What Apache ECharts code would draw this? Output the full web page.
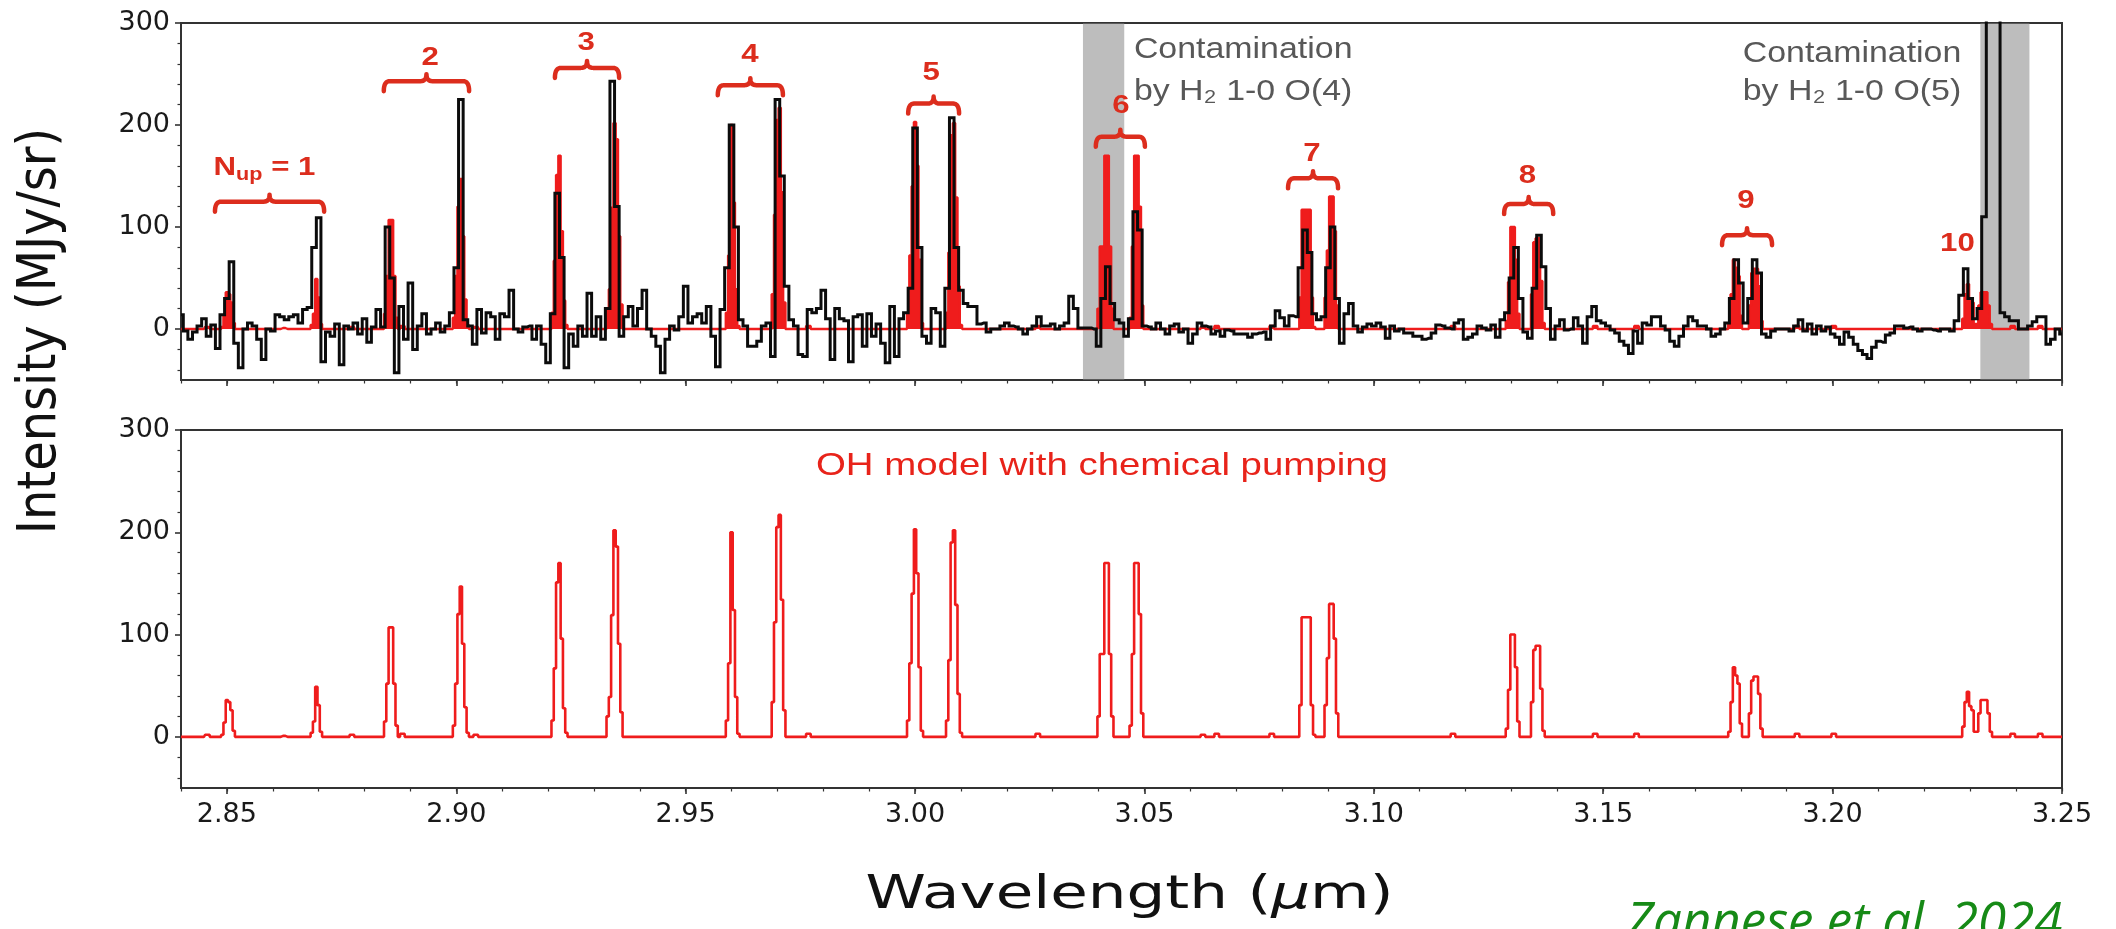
<!DOCTYPE html>
<html>
<head>
<meta charset="utf-8">
<script src="https://cdn.jsdelivr.net/npm/echarts@6/dist/echarts.min.js"></script>
<style>
  html, body { margin: 0; padding: 0; background: #ffffff; overflow: hidden; }
  #chart { width: 2116px; height: 929px; }
</style>
</head>
<body>
<div id="chart"></div>
<script>
// ---------------- data ----------------
// Observed spectrum: regular wavelength grid (µm) and intensity (MJy/sr)
const obsStart = 2.840;
const obsStep = 0.001;
const observed = [
  14, -2, -10, -3, 3, 10, -7, 4, -19, 14,
  30, 66, -14, -38, 0, 6, 3, -10, -30, 0,
  -2, 14, 12, 9, 12, 14, 6, 19, 21, 80,
  109, -32, -3, -7, 5, -35, 3, 0, 6, -5,
  10, -13, 2, 19, 2, 100, 50, -43, 22, -10,
  45, -20, 3, 15, -5, 0, 6, -3, 3, 16,
  60, 225, 9, 3, -15, 19, -4, 16, 12, -10,
  15, 12, 38, 0, -3, 2, 3, -10, 3, -15,
  -33, 15, 133, 70, -38, -5, -17, 3, -7, 35,
  -7, 12, -10, 20, 243, 120, -7, 12, 22, 3,
  20, 38, 0, -7, -17, -43, -10, 3, -1, 12,
  42, 6, 12, 15, 6, 22, -7, -37, 19, 60,
  200, 100, 9, 3, -17, -17, -12, 3, 6, -27,
  225, 150, 42, 9, 3, -25, -27, 19, 16, 20,
  38, 10, -30, 20, 10, 8, -32, 12, 14, -17,
  15, -7, 5, -14, -33, 22, -27, 10, 16, 40,
  197, 80, -7, -14, 20, 16, -17, 40, 207, 80,
  38, 25, 22, 22, 5, 6, -3, 0, 0, 3,
  6, 3, 2, 0, -5, 0, 3, 12, 3, 3,
  5, 0, 3, 6, 32, 20, 1, 1, 1, 0,
  -17, 30, 61, 25, 9, 6, -7, 10, 115, 97,
  3, 2, 0, 6, 0, -5, 3, 5, -3, 0,
  -14, -5, 6, 3, 2, -5, -2, -7, -1, -2,
  -5, -5, -5, -8, -5, -4, -3, -10, 3, 18,
  11, 3, 13, 12, 60, 97, 75, 15, 9, 12,
  60, 100, 30, -14, 15, 25, 3, -3, 2, 5,
  3, 6, 2, -9, 3, -2, 0, -4, -4, -7,
  -7, -10, -9, -4, 4, 3, 1, 0, 6, 9,
  -10, -8, -5, 3, 1, -1, 4, -8, 9, 16,
  50, 80, 30, -3, -9, 40, 92, 61, 20, -10,
  3, 9, -1, 0, 11, 3, -14, 12, 22, 8,
  6, 3, -1, -4, -12, -16, -24, -2, -14, 6,
  4, 12, 12, 3, -1, -12, -17, -7, 3, 12,
  8, 3, 3, 0, -7, -5, 0, 6, 30, 68,
  45, 6, 30, 68, 55, -5, -8, -2, 0, 0,
  0, -2, 3, 9, -2, 5, -5, 3, -2, 2,
  -5, -8, -15, -3, -8, -15, -21, -25, -29, -18,
  -12, -13, -6, -4, 3, 3, 1, 2, 0, -2,
  0, 0, -1, -2, 0, 0, -2, 8, 33, 59,
  30, 10, 20, 110, 420, 560, 480, 16, 12, 8,
  8, 0, 0, 3, 7, 12, 12, -15, -10, 0, -5
];

// OH model: zero continuum on a finer grid, with line profiles
// given as [first wavelength, successive values]
const modelStart = 2.840;
const modelEnd = 3.250;
const modelStep = 0.0005;
const modelLines = [
  [2.8455, [2, 2]],
  [2.8490, [2, 14, 36, 34, 26, 6]],
  [2.8620, [1, 1]],
  [2.8685, [4, 15, 49, 31, 5]],
  [2.8770, [2, 2]],
  [2.8845, [15, 52, 107, 107, 52, 11]],
  [2.8880, [3, 3]],
  [2.8995, [11, 52, 120, 147, 91, 29, 4]],
  [2.9040, [2, 2]],
  [2.9210, [16, 67, 151, 170, 96, 28, 4]],
  [2.9330, [20, 39, 119, 202, 186, 91, 24]],
  [2.9590, [16, 72, 200, 124, 39, 3]],
  [2.9690, [34, 112, 205, 217, 134, 26]],
  [2.9765, [3, 3]],
  [2.9985, [16, 72, 140, 203, 160, 68, 6]],
  [3.0070, [16, 75, 190, 202, 129, 42, 4]],
  [3.0265, [3, 3]],
  [3.0400, [20, 81, 81, 170, 170, 81, 20]],
  [3.0470, [11, 81, 170, 170, 120, 23]],
  [3.0625, [2, 2]],
  [3.0655, [3, 3]],
  [3.0775, [3, 3]],
  [3.0840, [31, 117, 117, 117, 117, 31, 2]],
  [3.0895, [31, 77, 130, 130, 96, 23]],
  [3.1170, [3, 3]],
  [3.1290, [8, 46, 100, 100, 68, 15]],
  [3.1345, [34, 85, 89, 89, 47, 6]],
  [3.1480, [3, 3]],
  [3.1570, [3, 3]],
  [3.1775, [5, 34, 68, 60, 52, 13]],
  [3.1820, [23, 55, 59, 59, 42, 8]],
  [3.1920, [3, 3]],
  [3.2000, [3, 3]],
  [3.2285, [10, 34, 44, 30, 26, 5, 5]],
  [3.2320, [23, 36, 36, 36, 23, 5]],
  [3.2390, [3, 3]],
  [3.2450, [3, 3]]
];

// Axis ticks
const xMajorTicks = [2.85, 2.90, 2.95, 3.00, 3.05, 3.10, 3.15, 3.20, 3.25];
const yMajorTicks = [0, 100, 200, 300];
const yMinorTicks = [-40, -20, 20, 40, 60, 80, 120, 140, 160, 180, 220, 240, 260, 280];

// Wavelength ranges contaminated by H2 lines (µm)
const contaminationBands = [[3.0366, 3.0456], [3.2322, 3.2429]];

// Upper-level groups of the OH lines
const groupLabels = ['N_up = 1', '2', '3', '4', '5', '6', '7', '8', '9', '10'];

// ---------------- annotation layout (data coordinates of the upper panel) ----------------
// [brace start, brace end, brace height, label centre wavelength, label centre height]
const braceLayout = [
  [2.8474, 2.8712, 124.8, 2.8582, 158.3],
  [2.8842, 2.9028, 243.0, 2.8943, 265.4],
  [2.9215, 2.9355, 256.0, 2.9283, 280.9],
  [2.9570, 2.9712, 239.0, 2.9640, 268.6],
  [2.9985, 3.0096, 221.0, 3.0035, 251.5],
  [3.0394, 3.0501, 188.5, 3.0449, 218.8],
  [3.0813, 3.0922, 147.7, 3.0865, 171.4],
  [3.1284, 3.1391, 122.5, 3.1335, 150.2],
  [3.1759, 3.1868, 92.0, 3.1811, 125.7],
  [null, null, null, 3.2272, 83.3]
];

// ---------------- series construction ----------------
const obsData = observed.map((v, i) => [+(obsStart + i * obsStep).toFixed(4), v]);

const nModel = Math.round((modelEnd - modelStart) / modelStep) + 1;
const modelValues = new Array(nModel).fill(0);
modelLines.forEach(([w0, vals]) => {
  const i0 = Math.round((w0 - modelStart) / modelStep);
  vals.forEach((v, k) => { modelValues[i0 + k] = v; });
});
const modelData = modelValues.map((v, i) => [+(modelStart + i * modelStep).toFixed(4), v]);

// ---------------- styling ----------------
const AXIS_COLOR = '#333333';
const TICK_FONT = 'DejaVu Sans';
const RED = '#ef1c1c';
const LABEL_RED = '#dc2d1d';
const SX = 1.2; // horizontal text stretch of the figure

const grids = [
  { left: 181, right: 54, top: 23, height: 357 },
  { left: 181, right: 54, top: 430, height: 358 }
];

function xAxesFor(gridIndex, withLabels) {
  return [
    {
      gridIndex, type: 'value', min: 2.84, max: 3.25, position: 'bottom',
      axisLine: { show: true, onZero: false, lineStyle: { color: AXIS_COLOR, width: 2 } },
      axisTick: { show: true, customValues: xMajorTicks, length: 6, lineStyle: { color: AXIS_COLOR, width: 1.6 } },
      axisLabel: withLabels ? {
        show: true, customValues: xMajorTicks, margin: 13,
        fontFamily: TICK_FONT, fontSize: 27, color: '#1a1a1a',
        formatter: v => Number(v).toFixed(2)
      } : { show: false },
      splitLine: { show: false }
    },
    {
      gridIndex, type: 'value', min: 2.84, max: 3.25, interval: 0.01, position: 'bottom',
      axisLine: { show: false, onZero: false },
      axisTick: { show: true, length: 3.5, lineStyle: { color: AXIS_COLOR, width: 1.2 } },
      axisLabel: { show: false },
      splitLine: { show: false }
    }
  ];
}

function yAxesFor(gridIndex) {
  return [
    {
      gridIndex, type: 'value', min: -50, max: 300, position: 'left',
      axisLine: { show: true, onZero: false, lineStyle: { color: AXIS_COLOR, width: 2 } },
      axisTick: { show: true, customValues: yMajorTicks, length: 6, lineStyle: { color: AXIS_COLOR, width: 1.6 } },
      axisLabel: {
        show: true, customValues: yMajorTicks, margin: 11,
        fontFamily: TICK_FONT, fontSize: 27, color: '#1a1a1a'
      },
      splitLine: { show: false }
    },
    {
      gridIndex, type: 'value', min: -50, max: 300, position: 'left',
      axisLine: { show: false, onZero: false },
      axisTick: { show: true, customValues: yMinorTicks, length: 3.5, lineStyle: { color: AXIS_COLOR, width: 1.2 } },
      axisLabel: { show: false },
      splitLine: { show: false }
    }
  ];
}

const option = {
  animation: false,
  backgroundColor: '#ffffff',
  grid: grids.map(g => Object.assign({ show: true, borderColor: AXIS_COLOR, borderWidth: 2, backgroundColor: 'transparent' }, g)),
  xAxis: [...xAxesFor(0, false), ...xAxesFor(1, true)],
  yAxis: [...yAxesFor(0), ...yAxesFor(1)],
  series: [
    {
      name: 'model (upper)', type: 'line', xAxisIndex: 0, yAxisIndex: 0,
      data: modelData, step: 'middle', symbol: 'none', silent: true, z: 2,
      lineStyle: { color: RED, width: 2.4 },
      areaStyle: { color: RED, opacity: 1, origin: 0 }
    },
    {
      name: 'observed', type: 'line', xAxisIndex: 0, yAxisIndex: 0,
      data: obsData, step: 'middle', symbol: 'none', silent: true, z: 3,
      lineStyle: { color: '#0b0b0b', width: 3, join: 'miter' }
    },
    {
      name: 'contamination', type: 'line', xAxisIndex: 0, yAxisIndex: 0,
      data: [], symbol: 'none', silent: true, z: 4,
      markArea: {
        silent: true,
        itemStyle: { color: 'rgba(128,128,128,0.52)' },
        data: contaminationBands.map(([a, b]) => [{ xAxis: a }, { xAxis: b }])
      }
    },
    {
      name: 'model (lower)', type: 'line', xAxisIndex: 2, yAxisIndex: 2,
      data: modelData, step: 'middle', symbol: 'none', silent: true, z: 3,
      lineStyle: { color: RED, width: 2.6 }
    }
  ]
};

const chart = echarts.init(document.getElementById('chart'), null, { renderer: 'canvas' });
chart.setOption(option);

// ---------------- annotations ----------------
const toUpper = p => chart.convertToPixel({ xAxisIndex: 0, yAxisIndex: 0 }, p);
const toLower = p => chart.convertToPixel({ xAxisIndex: 2, yAxisIndex: 2 }, p);

// Points of a horizontal curly brace with its cusp pointing up
function bracePoints(x1, x2, y) {
  const xm = (x1 + x2) / 2, h1 = 10, h2 = 7, r = 6;
  const pts = [];
  const quad = (p0, c, p1) => {
    for (let t = 0; t <= 1.0001; t += 0.125) {
      const u = 1 - t;
      pts.push([u * u * p0[0] + 2 * u * t * c[0] + t * t * p1[0],
                u * u * p0[1] + 2 * u * t * c[1] + t * t * p1[1]]);
    }
  };
  quad([x1, y + h1], [x1, y], [x1 + r, y]);
  quad([xm - r, y], [xm, y], [xm, y - h2]);
  quad([xm, y - h2], [xm, y], [xm + r, y]);
  quad([x2 - r, y], [x2, y], [x2, y + h1]);
  return pts;
}

const graphics = [];
const labelFont = { fontFamily: 'Liberation Sans', fontWeight: 'bold', fontSize: 26 };

braceLayout.forEach(([a, b, h, lx, ly], k) => {
  if (a !== null) {
    const [x1, y] = toUpper([a, h]);
    const [x2] = toUpper([b, h]);
    graphics.push({
      type: 'polyline', silent: true, z: 100,
      shape: { points: bracePoints(x1, x2, y) },
      style: { fill: null, stroke: LABEL_RED, lineWidth: 4.5, lineCap: 'round', lineJoin: 'round' }
    });
  }
  const [px, py] = toUpper([lx, ly]);
  const txt = groupLabels[k];
  if (txt.startsWith('N_up')) {
    graphics.push({
      type: 'text', x: px, y: py, scaleX: SX, silent: true, z: 100,
      style: {
        text: '{a|N}{b|up}{a| = 1}', align: 'center', verticalAlign: 'middle',
        rich: {
          a: Object.assign({ fill: LABEL_RED, lineHeight: 32, verticalAlign: 'middle' }, labelFont),
          b: { fill: LABEL_RED, fontFamily: 'Liberation Sans', fontWeight: 'bold', fontSize: 18, lineHeight: 32, verticalAlign: 'bottom' }
        }
      }
    });
  } else {
    graphics.push({
      type: 'text', x: px, y: py, scaleX: SX, silent: true, z: 100,
      style: Object.assign({ text: txt, fill: LABEL_RED, align: 'center', verticalAlign: 'middle' }, labelFont)
    });
  }
});

// contamination notes
const noteStyle = { fontFamily: 'Liberation Sans', fontSize: 30, fill: '#585858', align: 'left', verticalAlign: 'middle' };
[
  [3.0477, 273.5, 'Contamination'],
  [3.0477, 232.5, 'by H\u2082 1-0 O(4)'],
  [3.1804, 269.6, 'Contamination'],
  [3.1804, 233.0, 'by H\u2082 1-0 O(5)']
].forEach(([w, v, t]) => {
  const [x, y] = toUpper([w, v]);
  graphics.push({ type: 'text', x, y, scaleX: 1.13, silent: true, z: 100, style: Object.assign({ text: t }, noteStyle) });
});

// model caption in the lower panel
{
  const [x, y] = toLower([2.9784, 264.4]);
  graphics.push({
    type: 'text', x, y, scaleX: SX, silent: true, z: 100,
    style: { text: 'OH model with chemical pumping', fontFamily: 'Liberation Sans', fontSize: 32, fill: '#e8231a', align: 'left', verticalAlign: 'middle' }
  });
}

// axis titles
graphics.push({
  type: 'text', x: 41, y: 331, rotation: Math.PI / 2, scaleY: 1.1, silent: true, z: 100,
  style: { text: 'Intensity (MJy/sr)', fontFamily: 'DejaVu Sans', fontSize: 48, fill: '#111111', align: 'center', verticalAlign: 'middle' }
});
{
  const xc = (toUpper([2.84, 0])[0] + toUpper([3.25, 0])[0]) / 2;
  graphics.push({
    type: 'text', x: xc + 8, y: 896, scaleX: 1.3, silent: true, z: 100,
    style: {
      text: '{a|Wavelength (}{m|\u03bc}{a|m)}', align: 'center', verticalAlign: 'middle',
      rich: {
        a: { fontFamily: 'DejaVu Sans', fontSize: 47, fill: '#111111' },
        m: { fontFamily: 'DejaVu Sans', fontStyle: 'italic', fontSize: 47, fill: '#111111' }
      }
    }
  });
}

// citation (runs off the lower edge of the figure)
graphics.push({
  type: 'text', x: 1626, y: 899, silent: true, z: 100,
  style: { text: 'Zannese et al. 2024', fontFamily: 'Open Sans', fontStyle: 'italic', fontSize: 51, fill: '#168a16', align: 'left', verticalAlign: 'top' }
});

chart.setOption({ graphic: { elements: graphics } });
</script>
</body>
</html>
